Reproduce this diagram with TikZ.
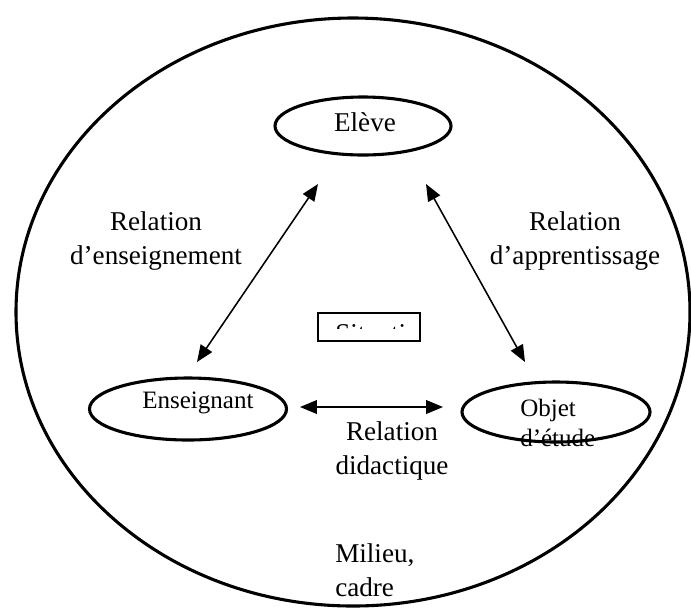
\documentclass[tikz,border=0pt]{standalone}
\usepackage{fontspec}
\setmainfont{Liberation Serif}
\usetikzlibrary{shapes.geometric,arrows.meta}

\begin{document}
\begin{tikzpicture}[x=0.25mm,y=-0.25mm,
		pole/.style={draw,ellipse,line width=2.2pt,inner sep=0pt},
		rel/.style={line width=1.1pt,{Triangle[length=4.2mm,width=3.4mm]}-{Triangle[length=4.2mm,width=3.4mm]}},
		lbl/.style={font=\fontsize{19.3}{23.8}\selectfont,inner sep=0pt},
		small/.style={font=\fontsize{17.8}{21.3}\selectfont,inner sep=0pt}]
		\useasboundingbox (0,0) rectangle (691,609);
		
		% milieu
		\draw [line width=2.2pt] (353,312) ellipse [x radius=337, y radius=294];
		\node [lbl, anchor=base west, align=left] (milieu) at (335,596) {Milieu,\\cadre};
		
		% poles
		\node [pole, minimum width=44mm, minimum height=14.5mm] (eleve) at (363,126) {};
		\node [pole, minimum width=49.25mm, minimum height=15.5mm] (ens) at (188,409) {};
		\node [pole, minimum width=47mm, minimum height=15mm] (objet) at (556,412) {};
		\node [lbl, anchor=base] (eleve-txt) at (365,131) {Elève};
		\node [small, anchor=base west] (ens-txt) at (142,408) {Enseignant};
		\node [small, anchor=base west, align=left] (objet-txt) at (520,446) {Objet\\d’étude};
		
		% situation
		\node [draw, line width=0.9pt, minimum width=25.5mm, minimum height=7mm] (sit) at (369,327) {};
		\begin{scope}
			\clip (322,321) rectangle (404,328);
			\node [lbl, anchor=base west] (sit-txt) at (335,342) {Situation};
		\end{scope}
		
		% relations
		\coordinate (e1) at (318,184);
		\coordinate (n1) at (197,362);
		\coordinate (e2) at (426,184);
		\coordinate (o2) at (525,362);
		\coordinate (n3) at (300,407);
		\coordinate (o3) at (443,407);
		\draw [rel] (n1) -- (e1);
		\draw [rel] (e2) -- (o2);
		\draw [rel] (n3) -- (o3);
		
		\node [lbl, anchor=base, align=center] (r-ens) at (156,264) {Relation\\d’enseignement};
		\node [lbl, anchor=base, align=center] (r-app) at (575,264) {Relation\\d’apprentissage};
		\node [lbl, anchor=base, align=center] (r-did) at (392,474) {Relation\\didactique};
	\end{tikzpicture}
\end{document}
